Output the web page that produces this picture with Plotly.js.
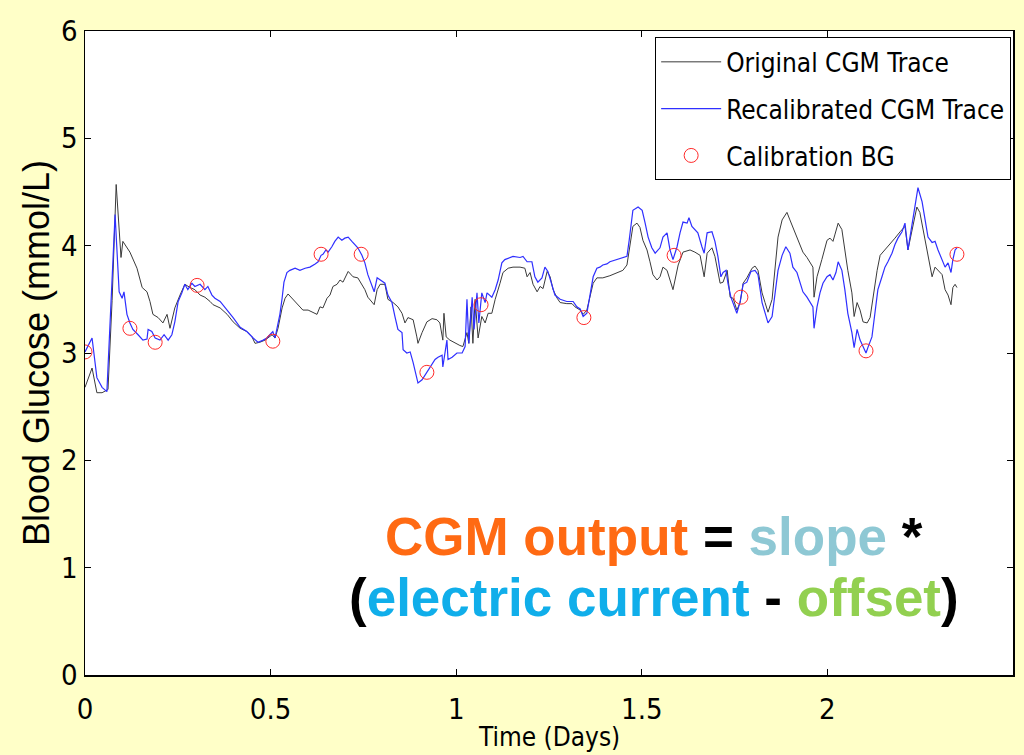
<!DOCTYPE html>
<html>
<head>
<meta charset="utf-8">
<script src="https://cdn.plot.ly/plotly-3.0.1.min.js"></script>
<style>
html,body{margin:0;padding:0;background:#FFFFC8;}
#chart{width:1024px;height:755px;}
</style>
</head>
<body>
<div id="chart"></div>
<script>
// Original CGM trace (time in days, glucose in mmol/L)
const days_orig = [0,0.019,0.032,0.046,0.062,0.073,0.084,0.097,0.102,0.121,0.140,0.154,0.167,0.175,0.183,0.197,0.210,0.221,0.229,0.242,0.256,0.269,0.283,0.296,0.310,0.323,0.337,0.345,0.364,0.383,0.399,0.418,0.436,0.450,0.458,0.471,0.485,0.504,0.512,0.520,0.531,0.539,0.547,0.560,0.574,0.587,0.601,0.614,0.625,0.633,0.641,0.652,0.660,0.668,0.679,0.687,0.695,0.709,0.722,0.735,0.746,0.754,0.762,0.773,0.779,0.787,0.795,0.808,0.816,0.830,0.843,0.854,0.862,0.870,0.884,0.894,0.897,0.908,0.921,0.935,0.948,0.956,0.964,0.967,0.973,0.983,0.997,1.010,1.018,1.029,1.034,1.040,1.045,1.051,1.059,1.069,1.078,1.086,1.096,1.105,1.118,1.126,1.140,1.153,1.172,1.185,1.191,1.199,1.207,1.218,1.226,1.234,1.245,1.253,1.261,1.272,1.280,1.298,1.312,1.320,1.334,1.342,1.352,1.360,1.369,1.379,1.395,1.414,1.433,1.449,1.460,1.468,1.476,1.487,1.495,1.503,1.514,1.522,1.530,1.541,1.549,1.557,1.568,1.576,1.584,1.598,1.611,1.630,1.643,1.657,1.668,1.676,1.689,1.697,1.705,1.711,1.719,1.730,1.738,1.746,1.756,1.765,1.773,1.783,1.797,1.805,1.813,1.824,1.832,1.840,1.851,1.859,1.867,1.878,1.891,1.899,1.907,1.918,1.926,1.934,1.945,1.953,1.961,1.964,1.972,1.985,1.999,2.007,2.015,2.020,2.029,2.039,2.047,2.055,2.066,2.072,2.080,2.088,2.096,2.107,2.115,2.123,2.134,2.142,2.155,2.169,2.182,2.196,2.209,2.217,2.228,2.236,2.241,2.249,2.258,2.268,2.274,2.282,2.290,2.298,2.309,2.317,2.325,2.333,2.338,2.344,2.349];
const bg_orig = [2.68,2.86,2.63,2.63,2.66,3.49,4.57,3.89,4.04,3.94,3.79,3.61,3.57,3.48,3.36,3.33,3.28,3.36,3.23,3.42,3.54,3.64,3.61,3.59,3.54,3.52,3.48,3.45,3.42,3.36,3.29,3.23,3.20,3.15,3.09,3.10,3.12,3.17,3.14,3.23,3.42,3.51,3.55,3.50,3.45,3.40,3.40,3.38,3.36,3.43,3.42,3.51,3.54,3.62,3.64,3.68,3.66,3.76,3.71,3.70,3.64,3.59,3.52,3.48,3.45,3.59,3.64,3.64,3.50,3.47,3.43,3.37,3.28,3.33,3.31,3.15,3.09,3.19,3.29,3.32,3.31,3.28,3.12,3.37,3.15,3.12,3.09,3.07,3.06,3.19,3.09,3.43,3.09,3.50,3.14,3.34,3.28,3.37,3.37,3.50,3.65,3.75,3.79,3.80,3.80,3.79,3.71,3.75,3.64,3.57,3.62,3.60,3.76,3.71,3.59,3.51,3.47,3.46,3.46,3.43,3.40,3.36,3.40,3.52,3.65,3.70,3.70,3.72,3.75,3.77,3.82,3.99,4.18,4.21,4.17,4.05,3.96,3.85,3.73,3.68,3.71,3.80,3.77,3.68,3.59,3.82,3.94,3.96,3.94,3.91,3.71,3.93,3.98,3.90,3.77,3.65,3.66,3.77,3.52,3.51,3.40,3.47,3.65,3.70,3.79,3.81,3.77,3.56,3.47,3.38,3.50,3.77,4.08,4.24,4.31,4.24,4.17,4.08,4.01,3.94,3.89,3.84,3.80,3.52,3.71,3.87,4.05,4.07,4.04,4.10,4.21,4.15,3.96,3.77,3.56,3.34,3.47,3.40,3.29,3.28,3.33,3.52,3.77,3.91,3.96,4.01,4.07,4.13,4.18,3.96,4.15,4.27,4.36,4.31,4.15,3.96,3.87,3.71,3.80,3.77,3.73,3.59,3.54,3.45,3.61,3.64,3.61];

// Recalibrated CGM trace
const days_recal = [0,0.019,0.032,0.046,0.059,0.070,0.081,0.092,0.100,0.105,0.113,0.121,0.129,0.143,0.156,0.167,0.170,0.180,0.189,0.202,0.213,0.224,0.234,0.242,0.251,0.261,0.269,0.277,0.288,0.296,0.310,0.323,0.331,0.342,0.350,0.364,0.383,0.399,0.418,0.436,0.453,0.466,0.480,0.490,0.498,0.506,0.512,0.517,0.525,0.531,0.536,0.544,0.552,0.566,0.579,0.593,0.606,0.620,0.628,0.636,0.641,0.649,0.655,0.665,0.673,0.682,0.692,0.700,0.709,0.719,0.727,0.735,0.746,0.754,0.762,0.773,0.779,0.787,0.795,0.808,0.816,0.827,0.835,0.843,0.854,0.857,0.867,0.876,0.884,0.897,0.908,0.921,0.935,0.943,0.951,0.962,0.964,0.975,0.978,0.989,1.002,1.016,1.024,1.029,1.034,1.043,1.048,1.056,1.061,1.069,1.078,1.083,1.096,1.105,1.113,1.123,1.131,1.145,1.153,1.172,1.180,1.191,1.204,1.212,1.220,1.231,1.239,1.247,1.258,1.266,1.280,1.298,1.315,1.325,1.334,1.342,1.352,1.360,1.369,1.379,1.387,1.395,1.406,1.414,1.433,1.449,1.460,1.466,1.476,1.490,1.501,1.509,1.517,1.527,1.536,1.549,1.557,1.568,1.576,1.584,1.595,1.603,1.611,1.622,1.627,1.635,1.643,1.651,1.662,1.668,1.676,1.689,1.697,1.705,1.713,1.719,1.727,1.732,1.740,1.756,1.765,1.773,1.783,1.794,1.805,1.813,1.824,1.832,1.840,1.851,1.859,1.867,1.878,1.888,1.899,1.907,1.918,1.926,1.934,1.945,1.953,1.961,1.964,1.972,1.980,1.988,1.999,2.007,2.015,2.023,2.029,2.039,2.047,2.055,2.066,2.072,2.080,2.088,2.096,2.104,2.109,2.120,2.128,2.136,2.147,2.155,2.163,2.174,2.182,2.190,2.201,2.209,2.217,2.228,2.236,2.244,2.255,2.263,2.271,2.282,2.290,2.298,2.309,2.317,2.325,2.333,2.338,2.344,2.349];
const bg_recal = [3.01,3.14,2.77,2.68,2.64,3.49,4.29,3.57,3.51,3.57,3.36,3.28,3.22,3.17,3.12,3.13,3.22,3.20,3.14,3.12,3.17,3.12,3.17,3.29,3.48,3.56,3.64,3.59,3.65,3.62,3.64,3.59,3.62,3.54,3.51,3.48,3.40,3.33,3.24,3.20,3.14,3.10,3.12,3.14,3.17,3.20,3.14,3.22,3.36,3.51,3.66,3.75,3.77,3.79,3.77,3.79,3.80,3.83,3.85,3.91,3.92,3.96,3.94,3.99,4.04,4.08,4.05,4.07,4.08,4.04,4.01,3.98,3.91,3.84,3.73,3.62,3.57,3.70,3.68,3.65,3.54,3.47,3.34,3.22,3.19,3.03,3.00,3.01,2.91,2.72,2.75,2.82,2.89,2.94,2.96,2.98,2.87,3.12,2.94,2.96,3.00,3.00,3.06,3.50,3.09,3.52,3.22,3.56,3.28,3.56,3.47,3.56,3.52,3.59,3.68,3.84,3.87,3.89,3.90,3.89,3.90,3.85,3.85,3.71,3.66,3.70,3.80,3.76,3.64,3.54,3.50,3.48,3.48,3.43,3.41,3.34,3.37,3.52,3.71,3.79,3.80,3.82,3.83,3.85,3.87,3.89,3.90,4.05,4.33,4.36,4.33,4.21,4.08,3.98,3.93,3.98,4.08,4.12,3.96,3.87,3.99,4.12,4.22,4.21,4.26,4.18,4.15,4.12,3.99,3.93,4.12,4.13,4.04,3.90,3.71,3.75,3.77,3.65,3.52,3.37,3.48,3.64,3.66,3.76,3.77,3.73,3.47,3.37,3.28,3.34,3.56,3.77,3.91,3.99,3.93,3.80,3.75,3.65,3.57,3.52,3.48,3.43,3.23,3.43,3.56,3.65,3.71,3.73,3.68,3.75,3.85,3.77,3.59,3.37,3.19,3.05,3.22,3.12,3.06,3.00,3.05,3.15,3.37,3.59,3.71,3.80,3.85,3.93,4.01,4.07,4.13,4.21,3.96,4.19,4.40,4.54,4.41,4.24,4.08,4.03,4.04,3.96,3.87,3.80,3.84,3.75,3.87,3.96,3.98];

// Calibration blood glucose samples
const days_cal = [0,0.121,0.189,0.302,0.506,0.636,0.744,0.921,1.067,1.344,1.587,1.767,2.104,2.349];
const bg_cal = [3.01,3.23,3.10,3.63,3.11,3.92,3.92,2.82,3.45,3.33,3.91,3.52,3.02,3.92];

const xTicks = [0,0.5,1,1.5,2,2.5];
const xTickText = ['0','0.5','1','1.5','2','2.5'];
const yTicks = [0,1,2,3,4,5,6];
const yTickText = ['0','1','2','3','4','5','6'];

const NARROW = '"DejaVu Sans Condensed", "Liberation Sans Narrow", sans-serif';
const ARIAL = '"Liberation Sans", Arial, sans-serif';

const traces = [
  {x: days_orig, y: bg_orig, type: 'scatter', mode: 'lines', name: 'Original CGM Trace',
   legendgroup: 'g1', line: {color: '#3a3a3a', width: 1}},
  {x: days_recal, y: bg_recal, type: 'scatter', mode: 'lines', name: 'Recalibrated CGM Trace',
   legendgroup: 'g2', line: {color: '#2f2fff', width: 1.2}},
  {x: days_cal, y: bg_cal, type: 'scatter', mode: 'markers', name: 'Calibration BG',
   legendgroup: 'g3',
   marker: {symbol: 'circle-open', size: 14, color: '#ff2a2a', line: {width: 1, color: '#ff2a2a'}}}
];

const layout = {
  width: 1024, height: 755,
  paper_bgcolor: '#FFFFC8',
  plot_bgcolor: '#FFFFFF',
  margin: {l: 85, r: 11, t: 31, b: 80},
  showlegend: true,
  legend: {
    x: 0.998, y: 0.99, xanchor: 'right', yanchor: 'top',
    bgcolor: '#FFFFFF', bordercolor: '#000000', borderwidth: 1,
    font: {family: NARROW, size: 26, color: '#000'},
    traceorder: 'grouped', tracegroupgap: 10,
    itemwidth: 60
  },
  xaxis: {
    range: [0, 2.5], tickvals: xTicks, ticktext: xTickText,
    ticks: 'inside', ticklen: 6, tickcolor: '#000', tickwidth: 1,
    showline: true, linecolor: '#000', linewidth: 1.5, mirror: 'allticks',
    showgrid: false, zeroline: false, ticklabelstandoff: 8,
    tickfont: {family: NARROW, size: 29, color: '#000'}
  },
  yaxis: {
    range: [0, 6], tickvals: yTicks, ticktext: yTickText,
    ticks: 'inside', ticklen: 6, tickcolor: '#000', tickwidth: 1,
    showline: true, linecolor: '#000', linewidth: 1.5, mirror: 'allticks',
    showgrid: false, zeroline: false,
    tickfont: {family: NARROW, size: 29, color: '#000'},
    title: {text: 'Blood Glucose (mmol/L)', font: {family: ARIAL, size: 36, color: '#000'}, standoff: 0}
  },
  annotations: [
    {xref: 'paper', yref: 'paper', x: 0.5, y: -0.1225, xanchor: 'center', yanchor: 'bottom', showarrow: false,
     font: {family: NARROW, size: 26, color: '#000'}, text: 'Time (Days)'},
    {xref: 'paper', yref: 'paper', x: 0.613, y: 0.215, xanchor: 'center', yanchor: 'middle', showarrow: false,
     font: {family: ARIAL, size: 53, color: '#000', weight: 'bold'},
     text: '<b><span style="color:#FF6A13">CGM output</span> = <span style="color:#8EC8D4">slope</span> *</b>'},
    {xref: 'paper', yref: 'paper', x: 0.613, y: 0.12, xanchor: 'center', yanchor: 'middle', showarrow: false,
     font: {family: ARIAL, size: 53, color: '#000', weight: 'bold'},
     text: '<b>(<span style="color:#10AEEA">electric current</span> - <span style="color:#92D050">offset</span>)</b>'}
  ]
};

Plotly.newPlot('chart', traces, layout, {displayModeBar: false, staticPlot: true});
</script>
</body>
</html>
